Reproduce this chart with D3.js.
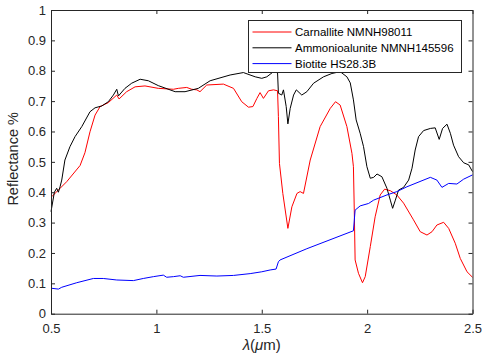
<!DOCTYPE html>
<html>
<head>
<meta charset="utf-8">
<script src="https://cdn.jsdelivr.net/npm/d3@7"></script>
<style>
  body { margin: 0; background: #fff; }
  text { font-family: "Liberation Sans", Arial, Helvetica, sans-serif; }
</style>
</head>
<body>
<svg id="chart" width="482" height="358"></svg>
<script>
// spectra: [wavelength (um), reflectance]
const carnallite = [
  [0.503,0.385],[0.575,0.435],[0.638,0.488],[0.661,0.530],[0.685,0.599],[0.709,0.654],
  [0.733,0.682],[0.772,0.695],[0.812,0.720],[0.823,0.707],[0.859,0.731],[0.899,0.747],
  [0.946,0.750],[1.009,0.742],[1.081,0.739],[1.104,0.742],[1.144,0.745],[1.168,0.739],
  [1.192,0.737],[1.207,0.731],[1.239,0.753],[1.318,0.756],[1.366,0.742],[1.405,0.698],
  [1.437,0.680],[1.458,0.682],[1.477,0.709],[1.492,0.728],[1.508,0.709],[1.532,0.734],
  [1.556,0.737],[1.575,0.734],[1.579,0.649],[1.584,0.495],[1.600,0.396],[1.624,0.281],
  [1.643,0.352],[1.667,0.396],[1.682,0.402],[1.698,0.396],[1.730,0.506],[1.777,0.616],
  [1.825,0.676],[1.850,0.698],[1.872,0.687],[1.904,0.616],[1.928,0.528],[1.935,0.484],
  [1.939,0.341],[1.943,0.177],[1.959,0.133],[1.978,0.102],[1.991,0.122],[2.015,0.221],
  [2.038,0.319],[2.062,0.391],[2.083,0.410],[2.110,0.405],[2.141,0.391],[2.173,0.364],
  [2.220,0.309],[2.252,0.270],[2.284,0.259],[2.308,0.270],[2.331,0.292],[2.363,0.301],
  [2.387,0.281],[2.418,0.232],[2.442,0.182],[2.474,0.138],[2.500,0.120]
];
const ammonioalunite = [
  [0.500,0.336],[0.516,0.400],[0.527,0.413],[0.535,0.400],[0.543,0.418],[0.551,0.440],
  [0.566,0.506],[0.590,0.550],[0.614,0.583],[0.646,0.616],[0.685,0.665],[0.709,0.678],
  [0.741,0.684],[0.772,0.698],[0.796,0.720],[0.812,0.739],[0.820,0.717],[0.851,0.742],
  [0.883,0.759],[0.923,0.772],[0.962,0.767],[1.009,0.751],[1.089,0.731],[1.136,0.731],
  [1.199,0.742],[1.255,0.767],[1.350,0.786],[1.413,0.794],[1.469,0.780],[1.500,0.775],
  [1.524,0.780],[1.556,0.797],[1.575,0.793],[1.579,0.726],[1.595,0.720],[1.603,0.737],
  [1.616,0.682],[1.624,0.625],[1.635,0.676],[1.651,0.720],[1.664,0.737],[1.690,0.720],
  [1.714,0.731],[1.746,0.759],[1.793,0.780],[1.833,0.791],[1.872,0.797],[1.904,0.780],
  [1.920,0.760],[1.935,0.704],[1.948,0.638],[1.967,0.594],[1.983,0.550],[1.999,0.484],
  [2.015,0.446],[2.031,0.449],[2.047,0.460],[2.070,0.451],[2.094,0.413],[2.110,0.374],
  [2.121,0.347],[2.134,0.374],[2.149,0.407],[2.173,0.416],[2.197,0.440],[2.213,0.479],
  [2.228,0.539],[2.244,0.583],[2.268,0.603],[2.300,0.610],[2.323,0.612],[2.342,0.574],
  [2.358,0.610],[2.379,0.624],[2.395,0.594],[2.410,0.555],[2.434,0.517],[2.458,0.497],
  [2.482,0.490],[2.500,0.468]
];
const biotite = [
  [0.500,0.084],[0.535,0.081],[0.551,0.087],[0.622,0.102],[0.701,0.116],[0.748,0.116],
  [0.812,0.111],[0.891,0.109],[0.938,0.116],[0.986,0.122],[1.033,0.127],[1.049,0.120],
  [1.081,0.122],[1.113,0.125],[1.128,0.120],[1.207,0.126],[1.287,0.124],[1.366,0.126],
  [1.445,0.132],[1.500,0.138],[1.540,0.144],[1.568,0.147],[1.579,0.171],[1.587,0.177],
  [1.714,0.214],[1.935,0.273],[1.943,0.341],[1.967,0.355],[2.007,0.363],[2.031,0.374],
  [2.094,0.391],[2.141,0.402],[2.189,0.418],[2.300,0.449],[2.331,0.440],[2.355,0.416],
  [2.387,0.429],[2.426,0.427],[2.458,0.443],[2.500,0.457]
];
const seriesNames = ['Carnallite NMNH98011', 'Ammonioalunite NMNH145596', 'Biotite HS28.3B'];
const seriesColors = ['#ff0000', '#000000', '#0000ff'];
const xTicks = [0.5, 1, 1.5, 2, 2.5];
const yTicks = [0, 0.1, 0.2, 0.3, 0.4, 0.5, 0.6, 0.7, 0.8, 0.9, 1];

const svg = d3.select('#chart');
const margin = { top: 10, right: 9.5, bottom: 44.3, left: 51 };
const width = +svg.attr('width');
const height = +svg.attr('height');
const axisColor = '#262626';

const x = d3.scaleLinear().domain([0.5, 2.5]).range([margin.left, width - margin.right]);
const y = d3.scaleLinear().domain([0, 1]).range([height - margin.bottom, margin.top]);

const line = d3.line().x(d => x(d[0])).y(d => y(d[1]));

[carnallite, ammonioalunite, biotite].forEach((s, i) => {
  svg.append('path')
      .datum(s)
      .attr('fill', 'none')
      .attr('stroke', seriesColors[i])
      .attr('stroke-width', 1)
      .attr('d', line);
});

const fmt = d3.format('');
function styleAxis(g) {
  g.selectAll('.domain').attr('stroke', axisColor);
  g.selectAll('.tick line').attr('stroke', axisColor);
  g.selectAll('.tick text').attr('fill', axisColor).style('font-size', '13px');
}

svg.append('g')
    .attr('transform', `translate(0,${y(0)})`)
    .call(d3.axisBottom(x).tickValues(xTicks).tickFormat(fmt).tickSize(-4).tickSizeOuter(0).tickPadding(10))
    .call(styleAxis);
svg.append('g')
    .attr('transform', `translate(0,${y(1)})`)
    .call(d3.axisTop(x).tickValues(xTicks).tickFormat('').tickSize(-4).tickSizeOuter(0))
    .call(styleAxis);
svg.append('g')
    .attr('transform', `translate(${x(0.5)},0)`)
    .call(d3.axisLeft(y).tickValues(yTicks).tickFormat(fmt).tickSize(-4).tickSizeOuter(0).tickPadding(5))
    .call(styleAxis);
svg.append('g')
    .attr('transform', `translate(${x(2.5)},0)`)
    .call(d3.axisRight(y).tickValues(yTicks).tickFormat('').tickSize(-4).tickSizeOuter(0))
    .call(styleAxis);

// axis labels
svg.append('text')
    .attr('transform', `translate(18,${(y(0) + y(1)) / 2 - 3}) rotate(-90)`)
    .attr('text-anchor', 'middle')
    .attr('fill', axisColor)
    .style('font-size', '14.5px')
    .text('Reflectance %');

const xl = svg.append('text')
    .attr('x', (x(0.5) + x(2.5)) / 2)
    .attr('y', 350)
    .attr('text-anchor', 'middle')
    .attr('fill', axisColor)
    .style('font-size', '15px');
xl.append('tspan').style('font-style', 'italic').text('λ');
xl.append('tspan').text('(');
xl.append('tspan').style('font-style', 'italic').text('μ');
xl.append('tspan').text('m)');

// legend
const legend = svg.append('g').attr('transform', 'translate(248.5,20.5)');
legend.append('rect')
    .attr('width', 213)
    .attr('height', 52)
    .attr('fill', '#fff')
    .attr('stroke', axisColor)
    .attr('stroke-width', 1);
seriesNames.forEach((name, i) => {
  const ly = 11.5 + i * 15.8;
  legend.append('line')
      .attr('x1', 4).attr('x2', 43)
      .attr('y1', ly).attr('y2', ly)
      .attr('stroke', seriesColors[i]);
  legend.append('text')
      .attr('x', 46.5)
      .attr('y', ly + 4)
      .attr('fill', '#000')
      .style('font-size', '11.5px')
      .text(name);
});
</script>
</body>
</html>
